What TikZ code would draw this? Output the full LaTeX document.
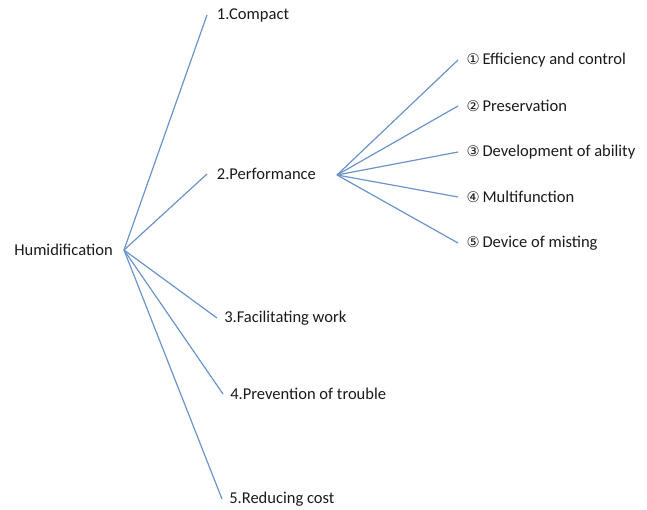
\documentclass[tikz,border=0pt]{standalone}
\usepackage{fontspec}
\setmainfont{Carlito}
\newfontfamily\circfont{DejaVu Sans}
\usetikzlibrary{positioning}
\definecolor{cline}{HTML}{6A94CB}
\definecolor{ctext}{HTML}{1A1A1A}
\tikzset{
  every picture/.style={font=\fontsize{12.4}{14}\selectfont, line width=0.9pt},
  branch/.style={draw=cline},
  leaf/.style={anchor=west, inner xsep=5pt, inner ysep=1pt, text=ctext},
  root/.style={anchor=east, inner xsep=8pt, inner ysep=1pt, text=ctext},
}
\newcommand{\circnum}[1]{{\circfont\fontsize{11}{12}\selectfont #1}\,}

\begin{document}
\begin{tikzpicture}[x=0.75pt, y=-0.75pt]
  \useasboundingbox (0,0) rectangle (647,510);

  % root
  \coordinate (hub) at (124,250);
  \node[root] (hum) at (hub) {Humidification};

  % first level
  \node[leaf, inner xsep=7pt] (compact) at (207,15) {1.Compact};
  \node[leaf, inner xsep=7pt] (perf)    at (207,174) {2.Performance};
  \node[leaf] (facil)   at (217,318) {3.Facilitating work};
  \node[leaf] (prev)    at (223,394) {4.Prevention of trouble};
  \node[leaf] (cost)    at (222,499) {5.Reducing cost};

  % second level
  \coordinate (phub) at (337,175);
  \node[leaf, inner xsep=6pt] (eff)   at (458,60)  {\circnum{①}Efficiency and control};
  \node[leaf, inner xsep=6pt] (pres)  at (458,106) {\circnum{②}Preservation};
  \node[leaf, inner xsep=6pt] (dev)   at (458,152) {\circnum{③}Development of ability};
  \node[leaf, inner xsep=6pt] (multi) at (458,197) {\circnum{④}Multifunction};
  \node[leaf, inner xsep=6pt] (mist)  at (458,243) {\circnum{⑤}Device of misting};

  % links
  \foreach \n in {compact, perf, facil, prev, cost}
    \draw[branch] (hub) -- (\n.west);
  \foreach \n in {eff, pres, dev, multi, mist}
    \draw[branch] (phub) -- (\n.west);
\end{tikzpicture}
\end{document}
